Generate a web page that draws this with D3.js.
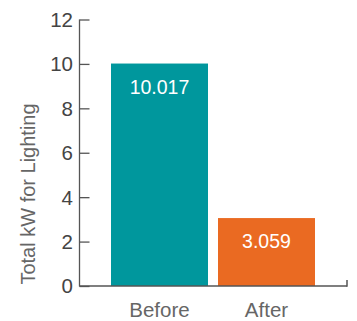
<!DOCTYPE html>
<html><head><meta charset="utf-8">
<script src="https://cdn.jsdelivr.net/npm/d3@7"></script>
<style>html,body{margin:0;padding:0;background:#fff;overflow:hidden}</style>
</head><body>
<script>
const categories = ["Before", "After"];
const values = [10.017, 3.059];
const valueLabels = ["10.017", "3.059"];
const yTicks = [0, 2, 4, 6, 8, 10, 12];
const colors = ["#00979d", "#ea6a22"];
const yLabel = "Total kW for Lighting";

const W = 357, H = 321;
const svg = d3.select("body").append("svg").attr("width", W).attr("height", H)
  .style("font-family", "'Liberation Sans', Arial, sans-serif");

const axisX = 79.5, baseY = 286;
const y = d3.scaleLinear().domain([0, 12]).range([baseY, 19.5]);
const p = 10 / 107;
const x = d3.scaleBand().domain(categories).range([106, 320]).paddingInner(p).paddingOuter(p / 2);

// bars
svg.selectAll("rect.bar").data(values).join("rect")
  .attr("x", (d, i) => x(categories[i]))
  .attr("y", d => y(d))
  .attr("width", x.bandwidth())
  .attr("height", d => baseY - y(d))
  .attr("fill", (d, i) => colors[i]);

// value labels
svg.selectAll("text.val").data(values).join("text")
  .attr("x", (d, i) => x(categories[i]) + x.bandwidth() / 2)
  .attr("y", d => y(d) + 30)
  .attr("text-anchor", "middle")
  .attr("fill", "#fff")
  .attr("font-size", 19.5)
  .text((d, i) => valueLabels[i]);

const axisColor = "#555";
// y axis
const yAxis = d3.axisRight(y).tickValues(yTicks).tickSize(10).tickFormat("");
const ga = svg.append("g").attr("transform", `translate(${axisX},0)`).call(yAxis);
ga.select(".domain").remove();
ga.selectAll("line").attr("stroke", axisColor).attr("stroke-width", 1.3);
svg.append("line").attr("x1", axisX).attr("x2", axisX).attr("y1", y(12)).attr("y2", baseY + 0.5)
  .attr("stroke", axisColor).attr("stroke-width", 1.3);

// y tick labels
svg.selectAll("text.yt").data(yTicks).join("text")
  .attr("x", 73).attr("y", d => y(d)).attr("dy", "0.36em")
  .attr("text-anchor", "end").attr("fill", "#444").attr("font-size", 20.5)
  .text(d => d);

// x axis baseline
svg.append("line").attr("x1", axisX).attr("x2", 347).attr("y1", baseY).attr("y2", baseY)
  .attr("stroke", axisColor).attr("stroke-width", 1.5);
svg.append("line").attr("x1", 347).attr("x2", 347).attr("y1", 280).attr("y2", baseY + 0.7)
  .attr("stroke", axisColor).attr("stroke-width", 1.5);

// category labels
svg.selectAll("text.cat").data(categories).join("text")
  .attr("x", d => x(d) + x.bandwidth() / 2)
  .attr("y", 317)
  .attr("text-anchor", "middle").attr("fill", "#666").attr("font-size", 20.5)
  .text(d => d);

// y label
svg.append("text")
  .attr("transform", "translate(35,194) rotate(-90)")
  .attr("text-anchor", "middle").attr("fill", "#666").attr("font-size", 20)
  .text(yLabel);
</script>
</body></html>
